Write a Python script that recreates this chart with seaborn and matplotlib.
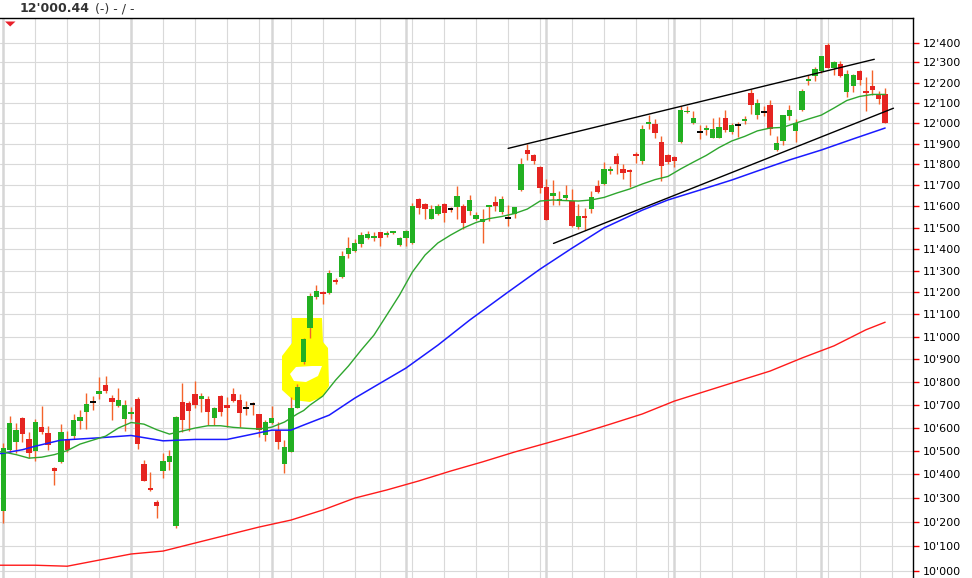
import numpy as np
import matplotlib
matplotlib.use("Agg")
import matplotlib.pyplot as plt
from matplotlib.patches import Polygon
from matplotlib.transforms import IdentityTransform
from matplotlib.ticker import NullLocator
import seaborn as sns

# daily candles, first one is only half visible at the left edge
opens = [10546,
         10244, 10503, 10539, 10642, 10550, 10500, 10601, 10576, 10428, 10454,
         10550, 10565, 10628, 10667, 10709, 10746, 10787, 10727, 10693, 10636,
         10658, 10723, 10444, 10343, 10285, 10415, 10452, 10184, 10711, 10705,
         10748, 10725, 10726, 10643, 10736, 10697, 10744, 10719, 10687, 10701,
         10657, 10566, 10621, 10591, 10442, 10496, 10687, 10888, 11040, 11177,
         11202, 11199, 11257, 11272, 11376, 11389, 11421, 11450, 11450, 11479,
         11464, 11473, 11418, 11449, 11430, 11633, 11611, 11541, 11566, 11611,
         11585, 11595, 11602, 11580, 11539, 11527, 11596, 11621, 11574, 11547,
         11562, 11678, 11870, 11845, 11787, 11693, 11651, 11624, 11640, 11624,
         11501, 11549, 11589, 11698, 11704, 11769, 11838, 11780, 11768, 11843,
         11817, 11997, 11996, 11907, 11846, 11834, 11909, 12052, 11999, 11959,
         11967, 11929, 11929, 12027, 11957, 11990, 12010, 12147, 12039, 12055,
         12087, 11871, 11912, 12034, 11962, 12065, 12206, 12233, 12257, 12389,
         12270, 12294, 12153, 12184, 12257, 12158, 12181, 12141, 12141]
highs = [10560,
         10534, 10649, 10622, 10648, 10581, 10639, 10693, 10606, 10432, 10614,
         10584, 10661, 10678, 10750, 10736, 10819, 10826, 10740, 10773, 10719,
         10690, 10733, 10463, 10411, 10292, 10489, 10505, 10652, 10795, 10715,
         10804, 10751, 10736, 10690, 10740, 10731, 10773, 10744, 10715, 10711,
         10660, 10633, 10693, 10625, 10545, 10731, 10789, 10992, 11196, 11233,
         11205, 11302, 11265, 11390, 11458, 11445, 11479, 11484, 11479, 11480,
         11482, 11482, 11458, 11490, 11617, 11639, 11617, 11606, 11610, 11614,
         11595, 11697, 11611, 11654, 11574, 11585, 11602, 11649, 11649, 11607,
         11598, 11830, 11900, 11848, 11790, 11731, 11723, 11673, 11702, 11683,
         11611, 11590, 11673, 11723, 11811, 11790, 11854, 11800, 11780, 11858,
         11990, 12040, 12020, 11936, 11850, 11840, 12084, 12085, 12057, 11990,
         11990, 12027, 12030, 12065, 12000, 12007, 12037, 12168, 12117, 12084,
         12114, 11936, 12042, 12087, 12020, 12168, 12237, 12278, 12335, 12397,
         12310, 12305, 12260, 12240, 12262, 12228, 12260, 12158, 12172]
lows = [10390,
        10196, 10489, 10489, 10539, 10468, 10458, 10574, 10503, 10353, 10450,
        10496, 10550, 10593, 10593, 10676, 10726, 10750, 10632, 10690, 10586,
        10636, 10507, 10370, 10330, 10215, 10385, 10420, 10176, 10579, 10586,
        10683, 10669, 10610, 10610, 10650, 10603, 10713, 10603, 10653, 10653,
        10558, 10541, 10615, 10506, 10407, 10496, 10683, 10877, 10996, 11172,
        11148, 11193, 11240, 11268, 11360, 11385, 11409, 11445, 11437, 11415,
        11458, 11468, 11412, 11412, 11422, 11566, 11538, 11538, 11558, 11527,
        11575, 11540, 11495, 11558, 11535, 11430, 11531, 11580, 11566, 11508,
        11545, 11672, 11820, 11800, 11665, 11535, 11607, 11607, 11628, 11505,
        11492, 11487, 11569, 11662, 11700, 11752, 11752, 11731, 11693, 11807,
        11800, 11969, 11929, 11722, 11800, 11785, 11905, 12048, 11995, 11924,
        11940, 11925, 11925, 11957, 11949, 11934, 11995, 12044, 12022, 12037,
        11940, 11866, 11892, 12017, 11909, 12060, 12188, 12210, 12247, 12270,
        12237, 12230, 12127, 12153, 12188, 12057, 12136, 12092, 12000]
closes = [10404,
          10513, 10620, 10589, 10574, 10491, 10625, 10581, 10526, 10415, 10580,
          10503, 10632, 10645, 10701, 10709, 10761, 10759, 10710, 10719, 10699,
          10667, 10530, 10373, 10332, 10265, 10458, 10480, 10645, 10633, 10673,
          10696, 10736, 10669, 10687, 10669, 10686, 10715, 10665, 10687, 10701,
          10588, 10626, 10640, 10538, 10515, 10683, 10777, 10988, 11184, 11208,
          11195, 11290, 11250, 11366, 11404, 11430, 11464, 11470, 11462, 11453,
          11476, 11479, 11452, 11484, 11602, 11590, 11589, 11585, 11602, 11569,
          11585, 11649, 11522, 11630, 11558, 11539, 11600, 11602, 11635, 11547,
          11595, 11804, 11850, 11816, 11687, 11537, 11665, 11628, 11654, 11508,
          11552, 11545, 11645, 11669, 11776, 11773, 11800, 11758, 11764, 11839,
          11969, 12003, 11954, 11793, 11813, 11818, 12065, 12060, 12025, 11959,
          11971, 11969, 11982, 11964, 11990, 11990, 12014, 12087, 12100, 12055,
          11969, 11904, 12039, 12065, 12000, 12157, 12215, 12268, 12331, 12274,
          12300, 12233, 12242, 12237, 12211, 12150, 12163, 12119, 12000.44]

# moving averages (candle index, level)
ma20_x = [0, 1, 3, 5, 7, 9, 11, 13, 15, 17, 19, 21, 23, 25, 27, 29, 31, 33, 35,
          37, 39, 41, 43, 45, 47, 48, 49, 51, 53, 55, 57, 59, 61, 63, 65, 67,
          69, 71, 73, 75, 77, 79, 81, 83, 85, 87, 89, 91, 93, 95, 97, 99, 101,
          103, 105, 107, 109, 111, 113, 115, 117, 119, 121, 123, 125, 127, 129,
          131, 133, 135, 137, 139]
ma20_y = [10497, 10495, 10484, 10469, 10473, 10484, 10501, 10529, 10546, 10563,
          10598, 10622, 10615, 10591, 10572, 10585, 10598, 10608, 10608, 10601,
          10597, 10594, 10602, 10624, 10659, 10674, 10698, 10737, 10807, 10869,
          10940, 11007, 11097, 11188, 11293, 11372, 11428, 11465, 11498, 11524,
          11542, 11552, 11566, 11587, 11625, 11630, 11627, 11625, 11630, 11642,
          11663, 11682, 11706, 11727, 11742, 11778, 11811, 11843, 11881, 11913,
          11935, 11962, 11976, 11979, 12000, 12020, 12039, 12074, 12111, 12131,
          12141, 12141]
ma50_x = [0, 1, 4, 6, 10, 16, 21, 26, 31, 36, 39, 43, 46, 48, 52, 56, 60, 64,
          69, 74, 80, 85, 90, 95, 101, 105, 110, 115, 119, 124, 129, 134, 139]
ma50_y = [10487, 10490, 10505, 10520, 10546, 10556, 10566, 10543, 10549, 10549,
          10566, 10589, 10589, 10611, 10654, 10728, 10794, 10860, 10962, 11075,
          11202, 11307, 11404, 11498, 11582, 11630, 11677, 11725, 11768, 11821,
          11869, 11923, 11976]
ma200_x = [0, 1, 6, 11, 16, 21, 26, 31, 36, 41, 46, 51, 56, 61, 66, 71, 76, 81,
           86, 91, 96, 101, 106, 111, 116, 121, 126, 131, 136, 139]
ma200_y = [10022, 10022, 10022, 10018, 10043, 10068, 10080, 10113, 10146, 10179,
           10208, 10250, 10300, 10334, 10372, 10414, 10453, 10495, 10533, 10572,
           10615, 10659, 10715, 10759, 10803, 10847, 10905, 10959, 11031, 11065]

# channel lines
upper_x = [80.0, 137.3]
upper_y = [11877, 12316]
lower_x = [87.1, 140.3]
lower_y = [11426, 12073]

tick_values = list(range(10000, 12401, 100))
week_lines = [1, 6, 11, 16, 21, 26, 31, 36, 41, 46, 51, 56, 60, 65, 70, 75, 80,
              85, 90, 95, 100, 105, 110, 115, 120, 125, 130, 135, 140]
month_lines = [1, 21, 43, 64, 86, 106, 129]

header_value = "12'000.44"
header_rest = "(-) - / -"

# hand drawn yellow marker, in screen pixels
marker_outer = [(292, 318), (322, 318), (323, 342), (328, 348), (329, 386),
                (322, 397), (310, 402), (293, 400), (282, 390), (282, 356),
                (292, 343)]
marker_hole = [(290, 374), (296, 367), (312, 366), (322, 366), (318, 376),
               (306, 382), (294, 381)]

GREEN = "#22b022"
RED = "#e52421"
WICK = "#f4632a"

sns.set_style("white")
plt.rcParams["font.family"] = ["DejaVu Sans"]

W, H = 972, 578
fig = plt.figure(figsize=(W / 100, H / 100), dpi=100)
ax = fig.add_axes([0, 0, 913 / W, (H - 18) / H])
ax.set_yscale("log")


def px(points):
    return [(x, H - y) for x, y in points]


# grid
ax.set_axisbelow(True)
ax.set_xticks(week_lines)
ax.set_xticklabels([])
ax.tick_params(axis="x", length=0)
ax.grid(axis="x", color="#d9d9d9", lw=0.8)
ax.grid(axis="y", color="#d9d9d9", lw=0.8)
for m in month_lines:
    ax.axvline(m, color="#d6d6d6", lw=1.8, zorder=0.6)

ax.add_patch(Polygon(px(marker_outer), closed=True, transform=IdentityTransform(),
                     facecolor="#ffff00", edgecolor="none", zorder=1))
ax.add_patch(Polygon(px(marker_hole), closed=True, transform=IdentityTransform(),
                     facecolor="white", edgecolor="none", zorder=1.1))

# candles
o = np.array(opens, dtype=float)
h = np.array(highs, dtype=float)
l = np.array(lows, dtype=float)
c = np.array(closes, dtype=float)
pos = np.arange(len(o))
up = c > o
down = c < o
flat = c == o
lo = np.minimum(o, c)
hi = np.maximum(np.maximum(o, c), lo * 1.0008)

ax.vlines(pos, l, h, color=WICK, lw=1.0, zorder=2)
ax.bar(pos[up], (hi - lo)[up], bottom=lo[up], width=0.84, color=GREEN, lw=0, zorder=3)
ax.bar(pos[down], (hi - lo)[down], bottom=lo[down], width=0.84, color=RED, lw=0, zorder=3)
ax.hlines(c[flat], pos[flat] - 0.45, pos[flat] + 0.45, color="black", lw=1.4, zorder=3)

# moving averages
sns.lineplot(x=ma200_x, y=ma200_y, color="#ff1a1a", lw=1.0, ax=ax, zorder=4)
sns.lineplot(x=ma50_x, y=ma50_y, color="#1a1aff", lw=1.1, ax=ax, zorder=4)
sns.lineplot(x=ma20_x, y=ma20_y, color="#2ea62e", lw=1.0, ax=ax, zorder=4)

ax.plot(upper_x, upper_y, color="black", lw=1.0, zorder=5)
ax.plot(lower_x, lower_y, color="black", lw=1.0, zorder=5)

ax.set_xlim(0.48, 143.36)
ax.set_ylim(9970, 12525)
ax.set_xlabel("")
ax.set_ylabel("")

ax.set_yticks(tick_values, labels=[f"{v:,}".replace(",", "'") for v in tick_values])
ax.yaxis.set_minor_locator(NullLocator())
ax.yaxis.tick_right()
ax.tick_params(axis="y", which="major", right=True, left=False, color="#ff0000",
               length=4, width=1, labelcolor="black", labelsize=8, pad=3)

for side in ("left", "bottom"):
    ax.spines[side].set_visible(False)
for side in ("top", "right"):
    ax.spines[side].set_visible(True)
    ax.spines[side].set_color("black")
    ax.spines[side].set_linewidth(1.0)

# header
fig.text(20 / W, 1 - 9 / H, header_value, fontsize=9, fontweight="bold",
         color="#333333", va="center", ha="left")
fig.text(95 / W, 1 - 9 / H, header_rest, fontsize=9, color="#333333",
         va="center", ha="left")
fig.add_artist(Polygon(px([(5, 21.5), (15.5, 21.5), (10.2, 26.5)]), closed=True,
                       transform=IdentityTransform(), facecolor="#e8202a",
                       edgecolor="none"))

fig.savefig("out.png", dpi=100)
